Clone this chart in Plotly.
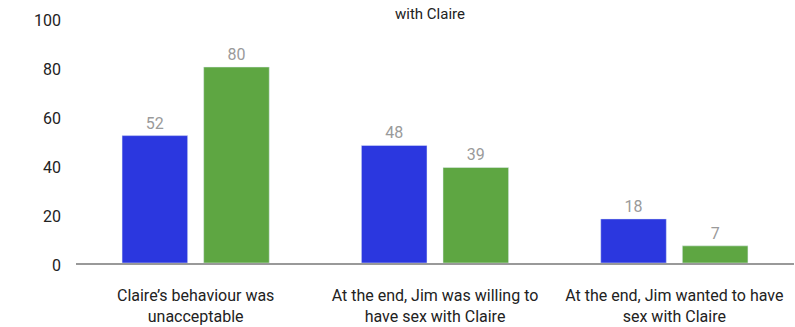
import plotly.graph_objects as go

categories = ["Claire’s behaviour was<br>unacceptable",
              "At the end, Jim was willing to<br>have sex with Claire",
              "At the end, Jim wanted to have<br>sex with Claire"]
series_a = [52, 48, 18]
series_b = [80, 39, 7]
tick_vals = [0, 20, 40, 60, 80, 100]

FONT = "Roboto, Liberation Sans, sans-serif"

fig = go.Figure()
fig.add_trace(go.Bar(x=categories, y=series_a, marker_color="#2B37DF",
                     text=series_a, textposition="outside",
                     textfont=dict(color="#9a9a9a", size=16, family=FONT),
                     cliponaxis=False))
fig.add_trace(go.Bar(x=categories, y=series_b, marker_color="#5EA642",
                     text=series_b, textposition="outside",
                     textfont=dict(color="#9a9a9a", size=16, family=FONT),
                     cliponaxis=False))

fig.update_layout(
    width=795, height=327,
    margin=dict(l=76, r=1, t=18, b=59),
    paper_bgcolor="white", plot_bgcolor="white",
    showlegend=False,
    barmode="group", bargap=0.318, bargroupgap=0.196,
    font=dict(family=FONT, color="#222222"),
    title=dict(text="with Claire", x=430/795, xanchor="center",
               y=1-14/327, yanchor="middle", yref="container",
               font=dict(size=15, family=FONT, color="#222222")),
)
fig.update_yaxes(range=[0, 100], tickvals=tick_vals, showgrid=False,
                 zeroline=False, showline=False, ticks="",
                 ticklabelstandoff=14, ticklabelshift=2,
                 tickfont=dict(size=16, family=FONT, color="#222222"))
fig.update_xaxes(showline=True, linecolor="#999999", linewidth=2,
                 ticks="", ticklabelstandoff=17,
                 tickfont=dict(size=16, family=FONT, color="#222222"))

fig.write_html("out.html")
